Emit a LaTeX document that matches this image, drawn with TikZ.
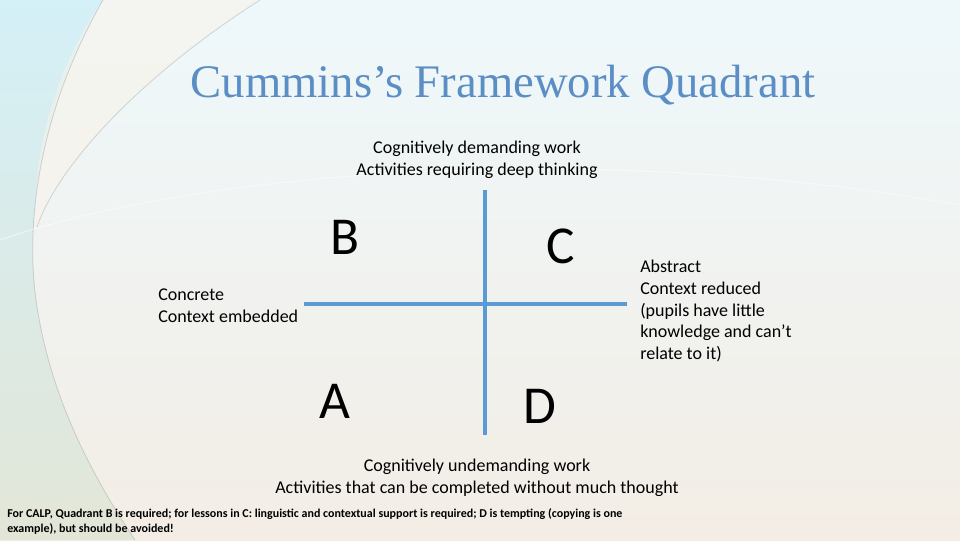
\documentclass[tikz,border=0pt]{standalone}
\usepackage{fontspec}
\setmainfont{Carlito}
\newfontfamily\titlefont{Liberation Serif}
\usetikzlibrary{positioning}

\definecolor{axisblue}{RGB}{91,155,213}
\definecolor{titleblue}{RGB}{92,142,198}
\definecolor{bgtop}{RGB}{238,248,251}
\definecolor{bgmid}{RGB}{253,253,251}
\definecolor{bgbot}{RGB}{243,237,229}
\definecolor{sidecyan}{RGB}{195,235,246}
\definecolor{sideteal}{RGB}{160,204,218}
\definecolor{sidegreen}{RGB}{216,226,206}
\definecolor{arccream}{RGB}{250,243,232}

\begin{document}
\begin{tikzpicture}[
				x=0.75pt, y=-0.75pt,
				caption/.style={
					inner sep=0pt,
					align=center,
					anchor=north,
					font=\fontsize{13.5}{16.3}\selectfont
				},
				sidenote/.style={
					inner sep=0pt,
					align=left,
					anchor=north west,
					font=\fontsize{13.5}{16.3}\selectfont
				},
				quadletter/.style={
					inner sep=0pt,
					font=\fontsize{40}{48}\selectfont
				},
				axis/.style={
					draw=axisblue,
					line width=2.6pt
				}
				]
				
				% Background
				\useasboundingbox (0,0) rectangle (960,540);
				\shade[top color=bgtop, middle color=bgmid, bottom color=bgbot] (0,0) rectangle (960,540);
				\shade[top color=sidecyan, middle color=sideteal, bottom color=sidegreen, opacity=0.6]
					(0,0) -- (103,0) .. controls (40,110) and (25,220) .. (36,300)
					.. controls (50,400) and (95,480) .. (135,540) -- (0,540) -- cycle;
				\fill[arccream, opacity=0.5]
					(103,0) -- (260,0) .. controls (150,70) and (60,160) .. (37,227)
					.. controls (30,150) and (60,60) .. (103,0) -- cycle;
				\draw[gray, opacity=0.3, line width=0.6pt]
					(103,0) .. controls (40,110) and (25,220) .. (36,300)
					.. controls (50,400) and (95,480) .. (135,540);
				\draw[gray, opacity=0.3, line width=0.6pt]
					(260,0) .. controls (150,70) and (60,160) .. (37,227);
				\draw[white, opacity=0.5, line width=0.8pt]
					(0,240) .. controls (200,170) and (600,140) .. (960,205);
				
				% Title
				\node[inner sep=0pt, text=titleblue, font=\titlefont\fontsize{35}{40}\selectfont] (title) at (503,85)
				{Cummins’s Framework Quadrant};
				
				% Axes
				\coordinate (top) at (485,190);
				\coordinate (bottom) at (485,435);
				\coordinate (left) at (304,304);
				\coordinate (right) at (627,304);
				\draw[axis] (top) -- (bottom);
				\draw[axis] (left) -- (right);
				
				% Quadrant letters
				\node[quadletter] (qB) at (345,237) {B};
				\node[quadletter] (qC) at (561,246) {C};
				\node[quadletter] (qA) at (335,401) {A};
				\node[quadletter] (qD) at (540,406) {D};
				
				% Axis labels
				\node[caption] (demanding) at (477,141)
				{Cognitively demanding work\\ Activities requiring deep thinking};
				\node[caption] (undemanding) at (477,459)
				{Cognitively undemanding work\\ Activities that can be completed without much thought};
				\node[sidenote] (concrete) at (158,289)
				{Concrete\\ Context embedded};
				\node[sidenote] (abstract) at (640,260)
				{Abstract\\ Context reduced\\ (pupils have little\\ knowledge and can’t\\ relate to it)};
				
				% Footnote
				\node[inner sep=0pt, align=left, anchor=north west, font=\bfseries\fontsize{9}{11.25}\selectfont] (footnote) at (7,508)
				{For CALP, Quadrant B is required; for lessons in C: linguistic and contextual support is required; D is tempting (copying is one\\ example), but should be avoided!};
				
			\end{tikzpicture}
\end{document}
